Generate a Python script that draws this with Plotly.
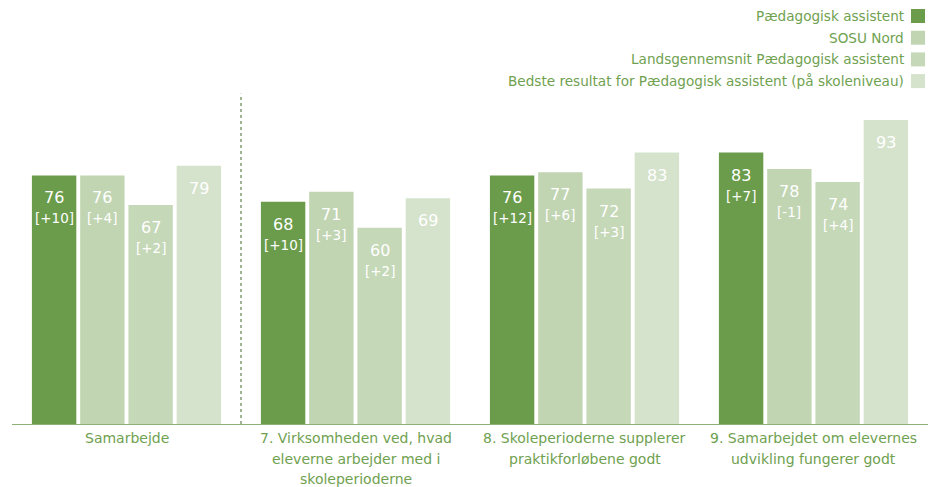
import plotly.graph_objects as go

# --- data -------------------------------------------------------------------
categories = [
    "Samarbejde",
    "7. Virksomheden ved, hvad<br>eleverne arbejder med i<br>skoleperioderne",
    "8. Skoleperioderne supplerer<br>praktikforløbene godt",
    "9. Samarbejdet om elevernes<br>udvikling fungerer godt",
]
series_names = [
    "Pædagogisk assistent",
    "SOSU Nord",
    "Landsgennemsnit Pædagogisk assistent",
    "Bedste resultat for Pædagogisk assistent (på skoleniveau)",
]
paed = [76, 68, 76, 83]
paed_diff = [10, 10, 12, 7]
sosu = [76, 71, 77, 78]
sosu_diff = [4, 3, 6, -1]
lands = [67, 60, 72, 74]
lands_diff = [2, 2, 3, 4]
best = [79, 69, 83, 93]

# --- style ------------------------------------------------------------------
COLORS = ["#6b9c4b", "#c1d5b3", "#c5d8b8", "#d6e3cc"]
TXT = "#6fa150"
FONT = "DejaVu Sans"
W, H = 928, 487
M = dict(l=12, r=0, t=97, b=63)
BARGAP, GROUPGAP = 0.157, 0.08

series = [
    (series_names[0], paed, paed_diff, COLORS[0]),
    (series_names[1], sosu, sosu_diff, COLORS[1]),
    (series_names[2], lands, lands_diff, COLORS[2]),
    (series_names[3], best, None, COLORS[3]),
]

fig = go.Figure()
for name, vals, diffs, color in series:
    fig.add_trace(go.Bar(
        x=categories, y=vals, name=name,
        marker=dict(color=color, line_width=0),
        showlegend=False, hoverinfo="x+y",
    ))

# value labels inside the top of each bar
plot_w = W - M["l"] - M["r"]
plot_h = H - M["t"] - M["b"]
cat_px = plot_w / len(categories)
slot_px = cat_px * (1 - BARGAP) / len(series)
for j, (name, vals, diffs, color) in enumerate(series):
    dx = (j - (len(series) - 1) / 2) * slot_px
    for i, v in enumerate(vals):
        fig.add_annotation(x=categories[i], y=v, xshift=dx, yshift=-11,
                           yanchor="top", showarrow=False, text=f"{v}",
                           font=dict(size=16, color="white", family=FONT))
        if diffs is not None:
            fig.add_annotation(x=categories[i], y=v, xshift=dx, yshift=-33,
                               yanchor="top", showarrow=False,
                               text=f"[{diffs[i]:+d}]",
                               font=dict(size=13.5, color="white", family=FONT))

# category labels (line spacing as in the original)
for i, cat in enumerate(categories):
    for k, line in enumerate(cat.split("<br>")):
        fig.add_annotation(x=categories[i], xref="x", yref="paper", y=0,
                           yshift=-4 - 20.5 * k, yanchor="top", showarrow=False,
                           text=line, font=dict(size=14, color=TXT, family=FONT))

fig.update_layout(
    width=W, height=H,
    paper_bgcolor="white", plot_bgcolor="white",
    margin=M,
    barmode="group", bargap=BARGAP, bargroupgap=GROUPGAP,
    font=dict(family=FONT, color=TXT, size=13),
)
fig.update_xaxes(showgrid=False, showline=True, linecolor="#8fb27a", linewidth=1,
                 ticks="", showticklabels=False)
fig.update_yaxes(range=[0, 100], visible=False)

# dotted separator after the overall category
fig.add_shape(type="line", xref="x", yref="paper", x0=0.5, x1=0.5, y0=0, y1=1.01,
              line=dict(color="#3f6a28", width=1, dash="dot"))

# legend: text right-aligned with square on the right
for i, (name, color) in enumerate(zip(series_names, COLORS)):
    ytop = 9 + i * 21.7
    fig.add_shape(type="rect", xref="paper", yref="paper",
                  x0=(911 - M["l"]) / plot_w, x1=(925 - M["l"]) / plot_w,
                  y0=(H - M["b"] - ytop) / plot_h, y1=(H - M["b"] - ytop - 14) / plot_h,
                  line_width=0, fillcolor=color)
    fig.add_annotation(xref="paper", yref="paper", x=(906 - M["l"]) / plot_w,
                       y=(H - M["b"] - ytop - 7) / plot_h, xanchor="right",
                       yanchor="middle", text=name, showarrow=False,
                       font=dict(size=13.6, color=TXT, family=FONT))

fig.write_html("out.html", config={"displayModeBar": False},
               post_script="document.body.style.margin='0px';"
               "document.body.style.overflow='hidden';")
